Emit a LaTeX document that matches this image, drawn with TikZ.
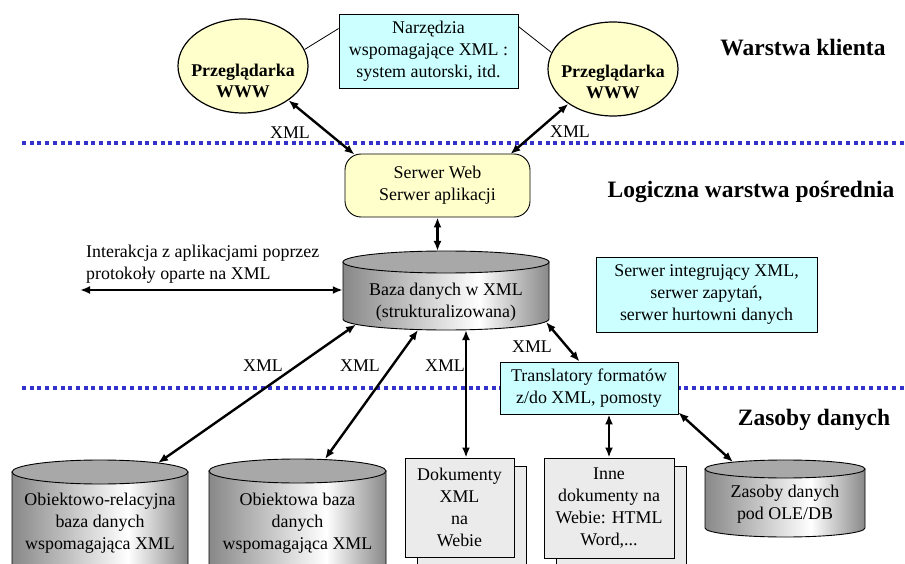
\documentclass[tikz,border=0pt]{standalone}
\usepackage{fontspec}
\setmainfont{Liberation Serif}
\usetikzlibrary{arrows.meta,shapes.geometric,calc}
\definecolor{cyanbox}{HTML}{CCFFFF}
\definecolor{yel}{HTML}{FFFFCC}
\definecolor{docgray}{HTML}{EBEBEB}
\definecolor{capgray}{HTML}{A8A8A8}
\definecolor{bodygray}{HTML}{888888}
\definecolor{dotblue}{HTML}{3333CC}
\pgfdeclarehorizontalshading{cylsh}{100bp}{color(0bp)=(bodygray); color(25bp)=(bodygray); color(58bp)=(white); color(75bp)=(bodygray); color(100bp)=(bodygray)}
\newcommand\dbcyl[5]{%
  \shadedraw[shading=cylsh, line width=0.9pt] ({#1-#2},-#3) -- ({#1-#2},-#4) arc[start angle=180, end angle=360, x radius=#2pt, y radius=#5pt] -- ({#1+#2},-#3) -- cycle;
  \filldraw[fill=capgray, line width=0.9pt] (#1,-#3) ellipse[x radius=#2pt, y radius=#5pt];
}
\begin{document}
\begin{tikzpicture}[x=1pt,y=1pt,
  every node/.style={font=\fontsize{17.9}{21.8}\selectfont, inner sep=0pt, align=center},
  boxc/.style={draw=black, line width=0.9pt, fill=cyanbox},
  docbox/.style={draw=black, line width=0.9pt, fill=docgray},
  ellip/.style={ellipse, draw=black, line width=1.2pt, fill=yel, minimum width=130pt, minimum height=94pt},
  brtext/.style={font=\fontsize{17.9}{21.8}\selectfont\bfseries},
  title/.style={font=\fontsize{23.5}{28}\selectfont\bfseries},
  thinline/.style={draw=black, line width=0.8pt},
  arr/.style={{Latex[length=10pt,width=8pt]}-{Latex[length=10pt,width=8pt]}, line width=2.4pt},
  dotline/.style={draw=dotblue, line width=4pt, dash pattern=on 4pt off 3.7pt}
]
\useasboundingbox (0,0) rectangle (905,-564);
% separators
\draw[dotline] (22,-143) -- (905,-143);
\draw[dotline] (22,-388) -- (905,-388);

% client layer
\node[ellip] (brL) at (243,-66) {};
\node[brtext] (brLt) at (243,-81) {Przeglądarka\\WWW};
\node[ellip] (brR) at (613,-69) {};
\node[brtext] (brRt) at (613,-82) {Przeglądarka\\WWW};
\node[boxc, minimum width=179pt, minimum height=74pt] (tools) at (428.5,-51) {Narzędzia\\wspomagające XML :\\system autorski, itd.};
\draw[thinline] ([yshift=-15pt]tools.north west) -- (brL.15);
\draw[thinline] ([yshift=-13pt]tools.north east) -- (brR.165);
\node[title] (t1) at (803,-48) {Warstwa klienta};

% middle layer
\node[draw=black, line width=0.9pt, fill=yel, rounded corners=16pt, minimum width=185pt, minimum height=63pt] (srv) at (437.5,-185.5) {Serwer Web\\Serwer aplikacji};
\node (x1) at (290,-133) {XML};
\node (x2) at (570,-132) {XML};
\draw[arr] (brL.-37) -- ([xshift=10pt,yshift=-1pt]srv.north west);
\draw[arr] (brR.218) -- ([xshift=-20pt,yshift=-0.5pt]srv.north east);
\node[title] (t2) at (751,-192) {Logiczna warstwa pośrednia};

% central database
\dbcyl{446}{103}{262}{319}{11}
\node[minimum width=206pt] (db) at (446,-302) {Baza danych w XML\\(strukturalizowana)};
\coordinate (dbtop) at ($(db.center)+(0,51)$);
\draw[arr] (srv.south) -- (srv.south |- dbtop);

\node[anchor=west, align=left] (inter) at (86,-264) {Interakcja z aplikacjami poprzez\\protokoły oparte na XML};
\coordinate (ileft) at (80,-290);
\draw[arr] (ileft) -- ([yshift=12pt]db.west);

\node[boxc, minimum width=221pt, minimum height=75pt] (integ) at (706.5,-294.5) {Serwer integrujący XML,\\serwer zapytań,\\serwer hurtowni danych};

\node[boxc, minimum width=178pt, minimum height=52pt] (tr) at (589,-388) {Translatory formatów\\z/do XML, pomosty};
\node (x6) at (532,-347) {XML};
\draw[arr] ($(db.center)+(100,-20)$) -- ([xshift=80pt]tr.north west);

\node[title] (t3) at (814,-420) {Zasoby danych};

% data sources
\dbcyl{100}{88}{472}{610}{12}
\node[minimum width=176pt] (orc) at (100,-523) {Obiektowo-relacyjna\\baza danych\\wspomagająca XML};
\dbcyl{297.5}{88.5}{471}{610}{12}
\node[minimum width=177pt] (oc) at (297.5,-523) {Obiektowa baza\\danych\\wspomagająca XML};
\dbcyl{785}{80}{469}{528}{9}
\node[minimum width=160pt] (ole) at (785,-504) {Zasoby danych\\pod OLE/DB};

\draw[docbox] (417,-466) rectangle (526,-564);
\node[docbox, minimum width=109pt, minimum height=99pt] (doc) at (459.5,-507.5) {Dokumenty\\XML\\na\\Webie};
\draw[docbox] (556,-466) rectangle (686,-564);
\node[docbox, minimum width=130pt, minimum height=100pt] (inne) at (609,-508) {Inne\\dokumenty na\\Webie: HTML\\Word,...};

\node (x3) at (263,-366) {XML};
\node (x4) at (360,-366) {XML};
\node (x5) at (445,-366) {XML};

\draw[arr] ($(db.center)+(-90,-22.5)$) -- ($(orc.center)+(58,60)$);
\draw[arr] ($(db.center)+(-28,-28)$) -- ($(oc.center)+(27.5,64)$);
\draw[arr] ($(db.center)+(20,-28)$) -- ([xshift=6.5pt]doc.north);
\draw[arr] (inne.north) -- (inne.north |- tr.south);
\draw[arr] ([yshift=2pt]tr.south east) -- ($(ole.center)+(-52,42)$);
\end{tikzpicture}
\end{document}
